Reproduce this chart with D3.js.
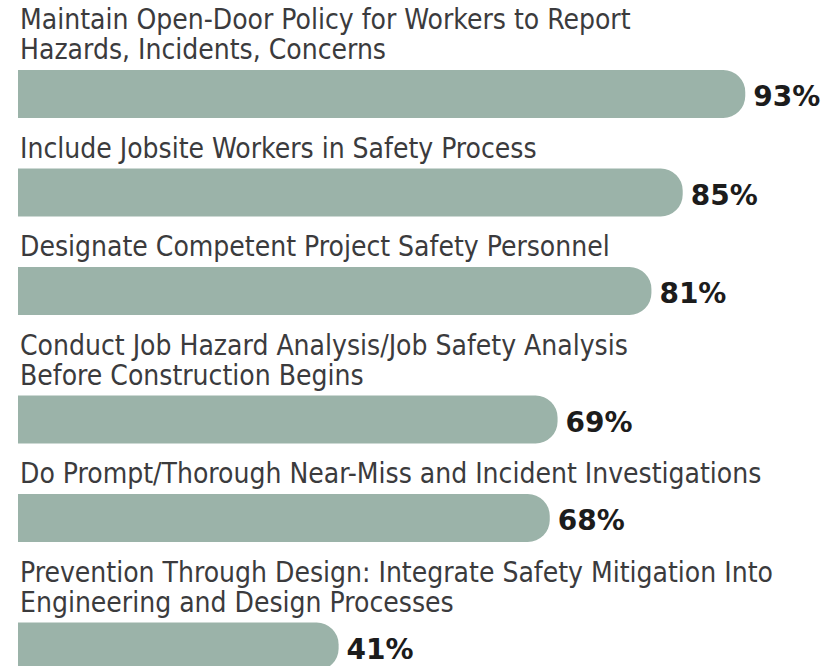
<!DOCTYPE html>
<html>
<head>
<meta charset="utf-8">
<script src="https://cdn.jsdelivr.net/npm/d3@7"></script>
<style>
  html, body { margin: 0; padding: 0; background: #ffffff; }
  svg { display: block; }
</style>
</head>
<body>
<svg id="chart" width="830" height="666"></svg>
<script>
// Safety practices and the share of respondents who use them
const practiceLabels = [
  ["Maintain Open-Door Policy for Workers to Report", "Hazards, Incidents, Concerns"],
  ["Include Jobsite Workers in Safety Process"],
  ["Designate Competent Project Safety Personnel"],
  ["Conduct Job Hazard Analysis/Job Safety Analysis", "Before Construction Begins"],
  ["Do Prompt/Thorough Near-Miss and Incident Investigations"],
  ["Prevention Through Design: Integrate Safety Mitigation Into", "Engineering and Design Processes"]
];
const shareValues = [93, 85, 81, 69, 68, 41];

const W = 830, H = 666;
const left = 18;
const lineStep = 30;      // distance between wrapped label lines
const firstBaseline = 29;
const barGap = 11;        // last label baseline to bar top
const barH = 48;
const afterBar = 39.5;    // bar bottom to next label baseline
const radius = 22;

const svg = d3.select("#chart");

const x = d3.scaleLinear().domain([0, 100]).range([left, 800]);

// stack the groups top to bottom
let cursor = firstBaseline;
const rows = practiceLabels.map((lines, i) => {
  const baselines = lines.map((_, j) => cursor + j * lineStep);
  const barTop = baselines[baselines.length - 1] + barGap;
  cursor = barTop + barH + afterBar;
  return { lines, baselines, barTop, value: shareValues[i] };
});

// rectangle with a square left edge and rounded right end
function barPath(x0, x1, y0, h, r) {
  const rr = Math.min(r, h / 2, x1 - x0);
  return `M${x0},${y0}H${x1 - rr}A${rr},${rr} 0 0 1 ${x1},${y0 + rr}` +
         `V${y0 + h - rr}A${rr},${rr} 0 0 1 ${x1 - rr},${y0 + h}H${x0}Z`;
}

const g = svg.selectAll("g.row").data(rows).join("g").attr("class", "row");

g.selectAll("text.cat")
  .data(d => d.lines.map((t, j) => ({ t, y: d.baselines[j] })))
  .join("text")
  .attr("class", "cat")
  .attr("x", left + 2)
  .attr("y", d => d.y)
  .attr("font-family", "'DejaVu Sans Condensed', 'Roboto', sans-serif")
  .attr("font-size", 28)
  .attr("fill", "#3b3b3d")
  .text(d => d.t);

g.append("path")
  .attr("d", d => barPath(x(0), x(d.value), d.barTop, barH, radius))
  .attr("fill", "#9bb3a9");

g.append("text")
  .attr("class", "val")
  .attr("x", d => x(d.value) + 8)
  .attr("y", d => d.barTop + barH / 2 + 12)
  .attr("font-family", "'DejaVu Sans', sans-serif")
  .attr("font-weight", "bold")
  .attr("font-size", 28)
  .attr("fill", "#1c1c1c")
  .text(d => d.value + "%");
</script>
</body>
</html>
